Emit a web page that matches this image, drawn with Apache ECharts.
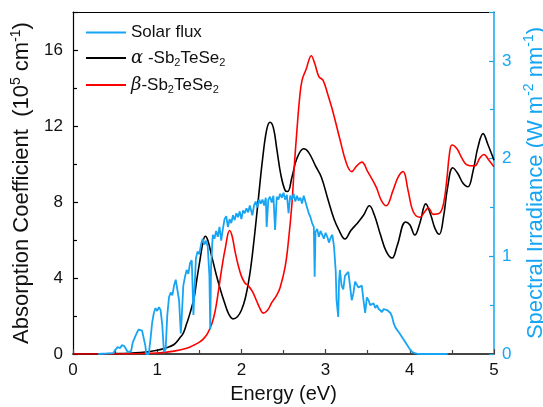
<!DOCTYPE html>
<html><head><meta charset="utf-8">
<script src="https://cdn.jsdelivr.net/npm/echarts@6/dist/echarts.min.js"></script>
<style>html,body{margin:0;padding:0;background:#fff}#c{width:543px;height:407px}</style>
</head><body><div id="c"></div>
<script>
// Energy (eV) vs absorption coefficient (1e5 cm^-1)
const alphaSb2TeSe2 = [
[0,0],[0.5,0.02],[0.8,0.08],[1.0,0.2],[1.1,0.32],[1.2,0.5],[1.27,0.85],[1.31,1.1],[1.35,1.6],[1.39,2.15],
[1.44,3.0],[1.47,3.9],[1.51,5.0],[1.54,5.8],[1.57,6.2],[1.6,6.0],[1.65,5.1],[1.7,4.2],[1.75,3.4],[1.8,2.7],
[1.85,2.1],[1.9,1.85],[1.95,1.95],[2.0,2.3],[2.05,3.0],[2.1,4.2],[2.15,6.0],[2.2,8.1],[2.25,10.2],[2.3,11.8],
[2.34,12.2],[2.38,11.9],[2.42,10.8],[2.47,9.4],[2.52,8.6],[2.55,8.55],[2.6,9.3],[2.66,10.3],[2.74,10.8],[2.8,10.6],
[2.88,9.9],[2.95,9.3],[3.03,8.1],[3.1,7.1],[3.15,6.6],[3.23,6.05],[3.3,6.5],[3.38,6.9],[3.45,7.3],[3.52,7.8],
[3.58,7.3],[3.65,6.3],[3.72,5.4],[3.79,5.05],[3.85,5.7],[3.95,6.95],[4.0,6.8],[4.06,6.26],[4.12,6.9],[4.19,7.9],
[4.25,7.3],[4.3,6.6],[4.35,6.3],[4.4,7.2],[4.45,8.8],[4.51,9.8],[4.57,9.5],[4.63,9.0],[4.69,8.8],[4.75,9.6],
[4.81,10.9],[4.87,11.6],[4.93,11.0],[5.0,10.2]
];
const betaSb2TeSe2 = [
[0,0],[0.5,0.0],[1.0,0.05],[1.2,0.15],[1.35,0.3],[1.45,0.5],[1.51,0.65],[1.56,0.85],[1.6,1.1],[1.65,1.6],
[1.69,2.3],[1.73,3.4],[1.77,4.6],[1.81,5.6],[1.86,6.5],[1.89,6.2],[1.92,5.5],[1.96,4.7],[2.0,4.1],[2.04,3.75],
[2.08,3.6],[2.13,3.3],[2.18,2.8],[2.22,2.4],[2.26,2.15],[2.31,2.3],[2.36,2.7],[2.42,3.1],[2.46,3.5],[2.52,4.6],
[2.56,6.0],[2.6,7.9],[2.63,10.0],[2.66,11.8],[2.69,13.4],[2.72,14.4],[2.77,15.0],[2.83,15.7],[2.87,15.3],[2.92,14.6],
[2.97,14.4],[3.03,13.6],[3.09,12.7],[3.17,11.3],[3.25,10.0],[3.31,9.6],[3.37,9.9],[3.43,10.1],[3.5,9.6],[3.6,8.8],
[3.66,8.1],[3.72,7.8],[3.8,8.6],[3.86,9.3],[3.92,9.6],[3.98,8.6],[4.04,7.5],[4.12,7.2],[4.18,7.5],[4.22,7.7],
[4.28,7.35],[4.35,7.4],[4.4,7.9],[4.44,9.2],[4.47,10.5],[4.5,11.0],[4.56,10.8],[4.62,10.3],[4.68,9.95],[4.77,9.9],
[4.83,10.3],[4.88,10.5],[4.94,10.2],[5.0,9.85]
];
// Energy (eV) vs spectral irradiance (W m^-2 nm^-1)
const solarFlux = [
[0.30,0],[0.40,0.005],[0.48,0.01],[0.50,0.04],[0.53,0.07],[0.56,0.06],[0.58,0.09],[0.61,0.08],[0.63,0.07],[0.65,0.02],
[0.67,0],[0.69,0.03],[0.71,0.12],[0.74,0.18],[0.76,0.22],[0.78,0.25],[0.80,0.27],[0.82,0.24],[0.84,0.26],[0.86,0.08],
[0.87,0],[0.90,0],[0.92,0.15],[0.94,0.32],[0.96,0.42],[0.98,0.47],[1.00,0.44],[1.02,0.48],[1.04,0.45],[1.06,0.30],
[1.08,0.02],[1.10,0.05],[1.12,0.40],[1.14,0.58],[1.16,0.63],[1.18,0.60],[1.20,0.70],[1.22,0.76],[1.24,0.74],[1.26,0.55],
[1.28,0.21],[1.29,0.35],[1.31,0.70],[1.33,0.79],[1.35,0.86],[1.37,0.82],[1.39,0.93],[1.41,0.96],[1.42,0.70],[1.43,0.40],
[1.44,0.60],[1.46,0.98],[1.48,1.05],[1.50,1.02],[1.52,1.12],[1.54,1.18],[1.56,1.12],[1.58,1.16],[1.60,1.10],[1.62,0.80],
[1.63,0.25],[1.64,0.90],[1.66,1.22],[1.68,1.18],[1.70,1.26],[1.72,1.20],[1.74,1.30],[1.76,1.16],[1.78,1.28],[1.80,1.38],
[1.82,1.41],[1.84,1.30],[1.86,1.38],[1.88,1.34],[1.90,1.42],[1.92,1.37],[1.94,1.44],[1.96,1.40],[1.98,1.46],[2.00,1.38],
[2.02,1.47],[2.04,1.44],[2.06,1.49],[2.08,1.45],[2.10,1.52],[2.12,1.54],[2.13,1.42],[2.15,1.52],[2.17,1.56],[2.19,1.50],
[2.21,1.58],[2.23,1.54],[2.25,1.58],[2.27,1.52],[2.29,1.60],[2.30,1.30],[2.32,1.58],[2.34,1.61],[2.36,1.55],[2.38,1.62],
[2.40,1.27],[2.42,1.61],[2.44,1.58],[2.46,1.64],[2.48,1.60],[2.50,1.65],[2.52,1.58],[2.54,1.63],[2.56,1.44],[2.58,1.62],
[2.60,1.58],[2.62,1.64],[2.64,1.56],[2.66,1.62],[2.68,1.57],[2.70,1.60],[2.72,1.54],[2.74,1.62],[2.76,1.60],[2.78,1.50],
[2.80,1.44],[2.82,1.40],[2.84,1.34],[2.86,1.30],[2.87,0.79],[2.88,1.25],[2.90,1.28],[2.92,1.20],[2.94,1.26],[2.96,1.22],
[2.98,1.18],[3.00,1.24],[3.02,1.20],[3.04,1.14],[3.06,1.19],[3.08,1.22],[3.10,1.10],[3.12,0.85],[3.13,0.55],[3.15,0.38],
[3.16,0.75],[3.17,0.86],[3.19,0.70],[3.21,0.66],[3.23,0.80],[3.25,0.78],[3.27,0.84],[3.29,0.70],[3.31,0.55],[3.33,0.62],
[3.35,0.74],[3.37,0.76],[3.39,0.68],[3.41,0.66],[3.43,0.70],[3.45,0.55],[3.47,0.42],[3.49,0.58],[3.51,0.55],[3.53,0.50],
[3.55,0.48],[3.57,0.52],[3.59,0.47],[3.61,0.50],[3.63,0.46],[3.65,0.48],[3.67,0.43],[3.69,0.46],[3.71,0.44],[3.73,0.45],
[3.75,0.43],[3.77,0.42],[3.79,0.38],[3.81,0.31],[3.83,0.27],[3.85,0.25],[3.88,0.21],[3.91,0.17],[3.94,0.13],[3.97,0.09],
[4.00,0.05],[4.03,0.02],[4.06,0.01],[4.10,0],[4.45,0]
];
const xRange = [0, 5];
const leftRange = [0, 18];
const rightRange = [0, 3.5];
const seriesNames = ['Solar flux', 'alpha', 'beta'];

const FONT = 'Liberation Sans, Arial, sans-serif';
const BLUE = '#17a5f3';
const chart = echarts.init(document.getElementById('c'), null, {renderer: 'canvas'});

const supRich = {
  sup: {fontSize: 14, verticalAlign: 'top', lineHeight: 27, padding: [0,0,9,0], fontFamily: FONT}
};

chart.setOption({
  animation: false,
  backgroundColor: '#fff',
  grid: {left: 73, right: 49, top: 12, bottom: 53, show: false, outerBoundsMode: 'none', containLabel: false},
  legend: {
    orient: 'vertical', left: 86, top: 24, itemWidth: 40, itemHeight: 2, itemGap: 8, padding: 0,
    icon: 'rect',
    data: seriesNames,
    formatter: function (n) {
      if (n === 'alpha') return '{g|α}{t| -Sb}{s|2}{t|TeSe}{s|2}';
      if (n === 'beta') return '{g|β}{t|-Sb}{s|2}{t|TeSe}{s|2}';
      return '{t|' + n + '}';
    },
    textStyle: {
      fontFamily: FONT, fontSize: 17, color: '#111',
      rich: {
        t: {fontSize: 17, fontFamily: FONT, color: '#111', lineHeight: 20},
        g: {fontSize: 18, fontFamily: 'DejaVu Serif, serif', fontStyle: 'italic', color: '#111', lineHeight: 20},
        s: {fontSize: 11, fontFamily: FONT, color: '#111', verticalAlign: 'bottom', lineHeight: 20, padding: [6,0,0,0]}
      }
    }
  },
  xAxis: [{
    type: 'value', min: xRange[0], max: xRange[1], interval: 1, position: 'bottom',
    axisLine: {show: true, onZero: false, lineStyle: {color: '#444', width: 2}},
    axisTick: {show: true, inside: true, length: 5, lineStyle: {color: '#444', width: 1.2}},
    minorTick: {show: true, splitNumber: 2, length: 4, lineStyle: {color: '#444', width: 1.2}},
    splitLine: {show: false},
    axisLabel: {color: '#111', fontSize: 17, fontFamily: FONT, margin: 8},
    name: 'Energy (eV)', nameLocation: 'middle', nameGap: 30,
    nameTextStyle: {fontSize: 20, color: '#111', fontFamily: FONT}
  }, {
    type: 'value', min: xRange[0], max: xRange[1], position: 'top',
    axisLine: {show: true, onZero: false, lineStyle: {color: '#000', width: 1}},
    axisTick: {show: false}, axisLabel: {show: false}, splitLine: {show: false}
  }],
  yAxis: [{
    type: 'value', min: leftRange[0], max: leftRange[1], interval: 4, position: 'left',
    axisLine: {show: true, onZero: false, lineStyle: {color: '#000', width: 1.2}},
    axisTick: {show: true, inside: true, length: 5, lineStyle: {color: '#000', width: 1.2}},
    minorTick: {show: true, splitNumber: 2, length: 4, lineStyle: {color: '#000', width: 1.2}},
    splitLine: {show: false},
    axisLabel: {color: '#111', fontSize: 17, fontFamily: FONT, margin: 10, showMaxLabel: false},
    name: 'Absorption Coefficient  (10{sup|5} cm{sup|-1})', nameLocation: 'middle', nameGap: 35,
    nameTextStyle: {fontSize: 22, color: '#111', fontFamily: FONT, rich: supRich}
  }, {
    type: 'value', min: rightRange[0], max: rightRange[1], interval: 1, position: 'right',
    axisLine: {show: true, onZero: false, lineStyle: {color: BLUE, width: 1.5}},
    axisTick: {show: true, inside: true, length: 5, lineStyle: {color: BLUE, width: 1.2}},
    minorTick: {show: true, splitNumber: 2, length: 4, lineStyle: {color: BLUE, width: 1.2}},
    splitLine: {show: false},
    axisLabel: {color: BLUE, fontSize: 17, fontFamily: FONT, margin: 8, showMaxLabel: false},
    name: 'Spectral Irradiance (W m{sup|-2} nm{sup|-1})', nameLocation: 'middle', nameGap: 28,
    nameTextStyle: {fontSize: 22, color: BLUE, fontFamily: FONT, rich: supRich}
  }],
  series: [{
    name: 'alpha', type: 'line', xAxisIndex: 0, yAxisIndex: 0, data: alphaSb2TeSe2,
    smooth: 0.4, symbol: 'none', lineStyle: {color: '#000', width: 1.6}, itemStyle: {color: '#000'}, z: 2
  }, {
    name: 'beta', type: 'line', xAxisIndex: 0, yAxisIndex: 0, data: betaSb2TeSe2,
    smooth: 0.4, symbol: 'none', lineStyle: {color: '#f00', width: 1.6}, itemStyle: {color: '#f00'}, z: 2
  }, {
    name: 'Solar flux', type: 'line', xAxisIndex: 0, yAxisIndex: 1, data: solarFlux,
    smooth: false, symbol: 'none', lineStyle: {color: BLUE, width: 1.8}, itemStyle: {color: BLUE}, z: 3
  }]
});
</script>
</body></html>
